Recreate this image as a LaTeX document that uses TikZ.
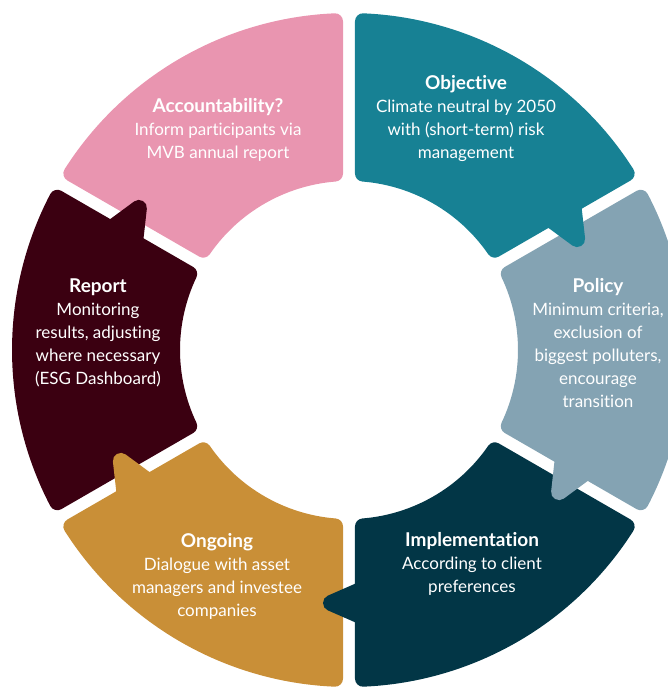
\documentclass[tikz,border=0pt]{standalone}
\usepackage{fontspec}
\setmainfont{Lato}[Ligatures={NoCommon}]
\usetikzlibrary{positioning}
\definecolor{Rose}{HTML}{E995B0}
\definecolor{Teal}{HTML}{178194}
\definecolor{Slate}{HTML}{84A3B3}
\definecolor{Navy}{HTML}{023646}
\definecolor{Ochre}{HTML}{C98F37}
\definecolor{Wine}{HTML}{3B0011}
\tikzset{
  part/.style={line width=16pt, line join=round},
  parttext/.style={
    text=white, align=center, inner sep=0pt,
    font=\fontsize{17}{23}\selectfont
  }
}
% tooth of a ring part, given the angle of its end
\newcommand\toothat[1]{-- ([rotate=#1]267,14) -- ([rotate=#1]253,-18) -- ([rotate=#1]239,14)}
% colour, from, to, tooth
\newcommand\ringpart[4]{%
  \filldraw[part, fill=#1, draw=#1]
    (#2-2.439:329) arc[start angle=#2-2.439, end angle=#3+2.439, radius=329pt]
    #4
    -- (#3+4.537:177) arc[start angle=#3+4.537, end angle=#2-4.537, radius=177pt]
    -- cycle;}
\newcommand\head[1]{{\fontsize{19}{23}\selectfont\bfseries #1}}
\begin{document}
\begin{tikzpicture}[x=1pt, y=1pt]
  \useasboundingbox (-349,-338) rectangle (318,350);
  % each tooth lies on the part that follows it
  \ringpart{Rose}{150}{90}{}
  \ringpart{Wine}{-150}{-210}{\toothat{-210}}
  \ringpart{Ochre}{-90}{-150}{\toothat{-150}}
  \ringpart{Navy}{-30}{-90}{\toothat{-90}}
  \ringpart{Slate}{30}{-30}{\toothat{-30}}
  \ringpart{Teal}{90}{30}{\toothat{30}}
  \node[parttext] (accountability) at (-131,220)
    {\head{Accountability?}\\Inform participants via\\MVB annual report};
  \node[parttext] (objective) at (117,232)
    {\head{Objective}\\Climate neutral by 2050\\with (short-term) risk\\management};
  \node[parttext] (policy) at (249,7)
    {\head{Policy}\\Minimum criteria,\\exclusion of\\biggest polluters,\\encourage\\transition};
  \node[parttext] (implementation) at (123,-214)
    {\head{Implementation}\\According to client\\preferences};
  \node[parttext] (ongoing) at (-132,-226)
    {\head{Ongoing}\\Dialogue with asset\\managers and investee\\companies};
  \node[parttext] (report) at (-251,17)
    {\head{Report}\\Monitoring\\results, adjusting\\where necessary\\(ESG Dashboard)};
\end{tikzpicture}
\end{document}
